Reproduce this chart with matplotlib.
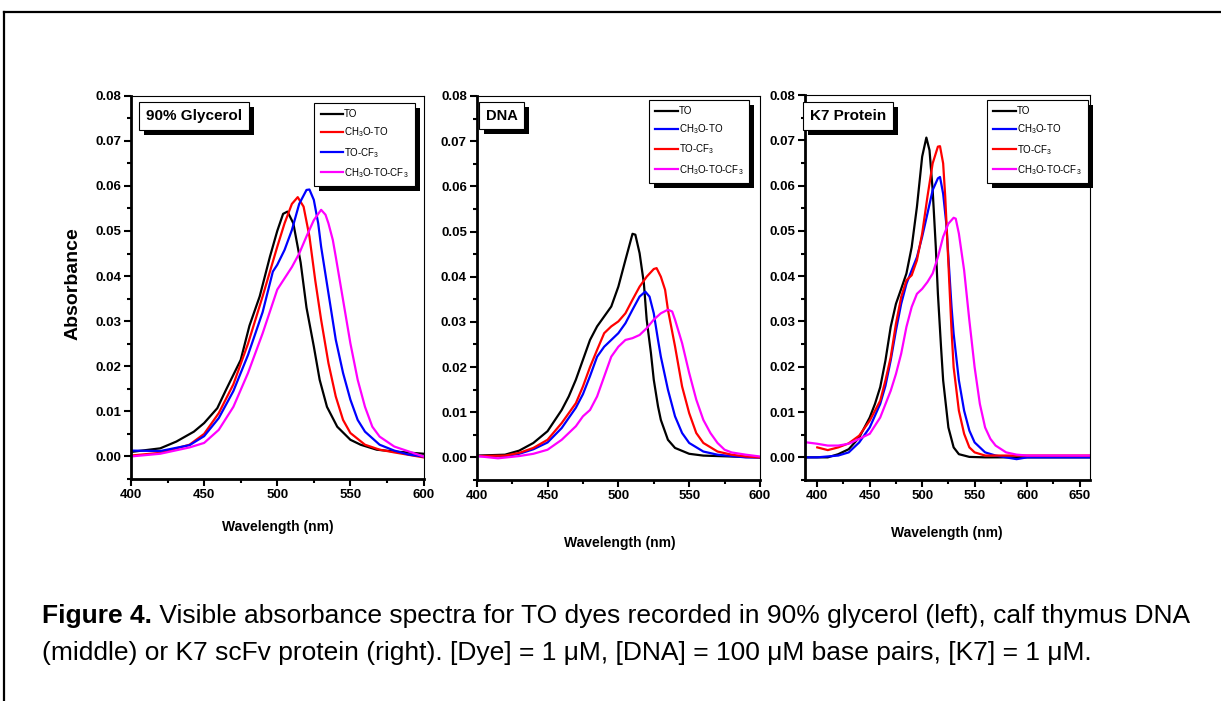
import matplotlib
matplotlib.use('Agg')
import matplotlib.pyplot as plt
from matplotlib.patches import Rectangle
from matplotlib.lines import Line2D
from matplotlib.transforms import IdentityTransform
from matplotlib.ticker import MultipleLocator, FormatStrFormatter

plt.rcParams['font.family'] = ['Liberation Sans', 'DejaVu Sans']
plt.rcParams['mathtext.fontset'] = 'custom'
plt.rcParams['mathtext.rm'] = 'Liberation Sans'
plt.rcParams['mathtext.default'] = 'regular'

# ---- data: wavelength (nm), absorbance ----
# 90% glycerol
gly_to_x = [400, 420, 431, 443, 450, 459, 465, 475, 481, 488, 495, 500, 504, 507, 511, 516, 520, 525, 529, 534, 541, 550, 557, 568, 580, 600]
gly_to_y = [0.0010, 0.0018, 0.0033, 0.0055, 0.0074, 0.0107, 0.0148, 0.0214, 0.0290, 0.0355, 0.0443, 0.0500, 0.0538, 0.0543, 0.0517, 0.0430, 0.0330, 0.0244, 0.0170, 0.0110, 0.0066, 0.0037, 0.0026, 0.0015, 0.0011, 0.0006]
gly_meo_x = [400, 420, 440, 450, 460, 470, 480, 490, 500, 505, 510, 514, 518, 522, 526, 530, 535, 540, 545, 550, 560, 570, 580, 600]
gly_meo_y = [0.0002, 0.0008, 0.0026, 0.0050, 0.0096, 0.0160, 0.0250, 0.0355, 0.0465, 0.0517, 0.0560, 0.0575, 0.0554, 0.0488, 0.0390, 0.0303, 0.0207, 0.0133, 0.0081, 0.0052, 0.0026, 0.0015, 0.0009, -0.0002]
gly_cf3_x = [400, 420, 440, 450, 460, 470, 480, 490, 497, 500, 505, 510, 515, 520, 522, 525, 528, 530, 535, 540, 545, 550, 555, 560, 570, 580, 590, 600]
gly_cf3_y = [0.0013, 0.0012, 0.0025, 0.0045, 0.0085, 0.0145, 0.0225, 0.0320, 0.0410, 0.0425, 0.0458, 0.0502, 0.0560, 0.0591, 0.0592, 0.0569, 0.0517, 0.0465, 0.0362, 0.0259, 0.0185, 0.0126, 0.0081, 0.0055, 0.0026, 0.0013, 0.0004, 0.0000]
gly_both_x = [400, 420, 440, 450, 460, 470, 480, 490, 500, 510, 515, 520, 525, 530, 533, 535, 538, 540, 545, 550, 555, 560, 565, 570, 580, 590, 600]
gly_both_y = [0.0000, 0.0006, 0.0020, 0.0030, 0.0059, 0.0110, 0.0185, 0.0273, 0.0370, 0.0420, 0.0450, 0.0488, 0.0524, 0.0547, 0.0536, 0.0517, 0.0480, 0.0443, 0.0347, 0.0251, 0.0170, 0.0110, 0.0066, 0.0044, 0.0022, 0.0011, 0.0000]

# calf thymus DNA
dna_to_x = [400, 420, 430, 440, 450, 460, 465, 470, 475, 480, 485, 490, 495, 500, 505, 510, 512, 515, 518, 520, 523, 525, 528, 530, 535, 540, 550, 560, 600]
dna_to_y = [0.0004, 0.0006, 0.0015, 0.0032, 0.0058, 0.0105, 0.0135, 0.0172, 0.0216, 0.0260, 0.0290, 0.0312, 0.0334, 0.0378, 0.0437, 0.0495, 0.0493, 0.0452, 0.0386, 0.0305, 0.0231, 0.0172, 0.0113, 0.0083, 0.0039, 0.0021, 0.0008, 0.0004, 0.0000]
dna_meo_x = [400, 420, 430, 440, 450, 460, 470, 475, 480, 485, 490, 495, 500, 505, 510, 515, 519, 522, 525, 528, 530, 535, 540, 545, 550, 560, 570, 590, 600]
dna_meo_y = [0.0003, 0.0003, 0.0008, 0.0018, 0.0033, 0.0065, 0.0110, 0.0140, 0.0180, 0.0223, 0.0245, 0.0260, 0.0275, 0.0297, 0.0327, 0.0356, 0.0367, 0.0356, 0.0319, 0.0260, 0.0223, 0.0150, 0.0091, 0.0054, 0.0032, 0.0013, 0.0006, 0.0000, 0.0000]
dna_cf3_x = [400, 420, 430, 440, 450, 460, 465, 470, 475, 480, 485, 490, 495, 500, 505, 510, 515, 520, 525, 527, 530, 533, 535, 540, 545, 550, 555, 560, 570, 580, 590, 600]
dna_cf3_y = [0.0003, 0.0004, 0.0010, 0.0021, 0.0039, 0.0076, 0.0098, 0.0120, 0.0157, 0.0200, 0.0238, 0.0275, 0.0290, 0.0301, 0.0319, 0.0349, 0.0378, 0.0400, 0.0417, 0.0419, 0.0400, 0.0371, 0.0327, 0.0246, 0.0157, 0.0098, 0.0054, 0.0032, 0.0013, 0.0006, 0.0002, 0.0000]
dna_both_x = [400, 415, 430, 440, 450, 460, 470, 475, 480, 485, 490, 495, 500, 505, 510, 515, 520, 525, 530, 535, 538, 540, 545, 550, 555, 560, 565, 570, 575, 580, 590, 600]
dna_both_y = [0.0003, -0.0002, 0.0003, 0.0008, 0.0017, 0.0039, 0.0069, 0.0091, 0.0105, 0.0135, 0.0179, 0.0223, 0.0245, 0.0260, 0.0264, 0.0271, 0.0286, 0.0305, 0.0319, 0.0327, 0.0323, 0.0305, 0.0253, 0.0187, 0.0128, 0.0083, 0.0054, 0.0032, 0.0017, 0.0011, 0.0006, 0.0002]

# K7 scFv protein
k7_to_x = [390, 410, 420, 430, 440, 450, 455, 460, 465, 470, 475, 480, 485, 490, 495, 500, 504, 507, 510, 513, 515, 518, 520, 525, 530, 535, 545, 560, 660]
k7_to_y = [0.0000, 0.0000, 0.0007, 0.0018, 0.0044, 0.0088, 0.0118, 0.0155, 0.0214, 0.0288, 0.0339, 0.0372, 0.0406, 0.0464, 0.0553, 0.0664, 0.0706, 0.0678, 0.0590, 0.0464, 0.0361, 0.0243, 0.0170, 0.0066, 0.0022, 0.0007, 0.0001, 0.0000, 0.0000]
k7_meo_x = [390, 400, 420, 430, 440, 450, 460, 465, 470, 475, 480, 485, 490, 495, 500, 505, 510, 515, 517, 520, 523, 525, 528, 530, 535, 540, 545, 550, 560, 570, 590, 600, 660]
k7_meo_y = [0.0000, 0.0000, 0.0004, 0.0011, 0.0033, 0.0066, 0.0118, 0.0158, 0.0214, 0.0280, 0.0339, 0.0383, 0.0413, 0.0442, 0.0487, 0.0538, 0.0590, 0.0616, 0.0619, 0.0582, 0.0516, 0.0442, 0.0332, 0.0273, 0.0170, 0.0103, 0.0059, 0.0033, 0.0011, 0.0004, -0.0004, 0.0000, 0.0000]
k7_cf3_x = [400, 410, 420, 430, 440, 450, 460, 465, 470, 475, 480, 485, 490, 495, 500, 505, 510, 515, 517, 520, 522, 525, 528, 530, 535, 540, 545, 550, 560, 580, 660]
k7_cf3_y = [0.0022, 0.0016, 0.0022, 0.0031, 0.0048, 0.0081, 0.0125, 0.0170, 0.0221, 0.0295, 0.0354, 0.0391, 0.0402, 0.0435, 0.0494, 0.0575, 0.0649, 0.0686, 0.0687, 0.0649, 0.0575, 0.0428, 0.0280, 0.0199, 0.0103, 0.0052, 0.0022, 0.0011, 0.0004, 0.0004, 0.0004]
k7_both_x = [390, 400, 410, 420, 430, 440, 450, 460, 470, 475, 480, 485, 490, 495, 500, 505, 510, 515, 520, 525, 530, 532, 535, 540, 545, 550, 555, 560, 565, 570, 580, 590, 600, 660]
k7_both_y = [0.0033, 0.0030, 0.0026, 0.0026, 0.0030, 0.0041, 0.0052, 0.0088, 0.0147, 0.0184, 0.0229, 0.0288, 0.0332, 0.0361, 0.0372, 0.0387, 0.0406, 0.0442, 0.0487, 0.0516, 0.0529, 0.0527, 0.0494, 0.0413, 0.0302, 0.0199, 0.0118, 0.0066, 0.0041, 0.0026, 0.0011, 0.0006, 0.0004, 0.0004]

lab_to = 'TO'
lab_meo = 'CH$_3$O-TO'
lab_cf3 = 'TO-CF$_3$'
lab_both = 'CH$_3$O-TO-CF$_3$'

caption_bold = 'Figure 4.'
caption_1 = ' Visible absorbance spectra for TO dyes recorded in 90% glycerol (left), calf thymus DNA'
caption_2 = '(middle) or K7 scFv protein (right). [Dye] = 1 \u03bcM, [DNA] = 100 \u03bcM base pairs, [K7] = 1 \u03bcM.'

W, H = 1221, 701
fig = plt.figure(figsize=(W / 100, H / 100), dpi=100)


def px_axes(x0, y0, x1, y1):
    return fig.add_axes([x0 / W, 1 - y1 / H, (x1 - x0) / W, (y1 - y0) / H])


def style_axes(ax, xlim, xticks):
    ax.set_xlim(*xlim)
    ax.set_ylim(-0.005, 0.08)
    ax.set_xticks(xticks)
    ax.xaxis.set_minor_locator(MultipleLocator(25))
    ax.yaxis.set_major_locator(MultipleLocator(0.01))
    ax.yaxis.set_minor_locator(MultipleLocator(0.005))
    ax.yaxis.set_major_formatter(FormatStrFormatter('%.2f'))
    for s in ['left', 'bottom']:
        ax.spines[s].set_linewidth(2.0)
    for s in ['top', 'right']:
        ax.spines[s].set_linewidth(0.8)
    ax.tick_params(which='major', direction='out', length=5, width=1.5, pad=2,
                   labelsize=9.5)
    ax.tick_params(which='minor', direction='out', length=3, width=1.5)
    for lb in ax.get_xticklabels() + ax.get_yticklabels():
        lb.set_fontweight('bold')


panels = [
    dict(box=(131, 95.7, 423.5, 479), xlim=(400, 600), xticks=range(400, 601, 50),
         curves=[(gly_to_x, gly_to_y, 'black', lab_to),
                 (gly_meo_x, gly_meo_y, '#ff0000', lab_meo),
                 (gly_cf3_x, gly_cf3_y, '#0000ff', lab_cf3),
                 (gly_both_x, gly_both_y, '#ff00ff', lab_both)],
         title='90% Glycerol', title_xy=(0.216, 0.947), title_size=11,
         leg_xy=(0.627, 0.981), xlab_xy=(0.503, -0.125)),
    dict(box=(476.7, 96, 760, 480), xlim=(400, 600), xticks=range(400, 601, 50),
         curves=[(dna_to_x, dna_to_y, 'black', lab_to),
                 (dna_meo_x, dna_meo_y, '#0000ff', lab_meo),
                 (dna_cf3_x, dna_cf3_y, '#ff0000', lab_cf3),
                 (dna_both_x, dna_both_y, '#ff00ff', lab_both)],
         title='DNA', title_xy=(0.089, 0.949), title_size=10.5,
         leg_xy=(0.608, 0.990), xlab_xy=(0.506, -0.164)),
    dict(box=(805, 95, 1090, 480), xlim=(388.3, 660), xticks=range(400, 651, 50),
         curves=[(k7_to_x, k7_to_y, 'black', lab_to),
                 (k7_meo_x, k7_meo_y, '#0000ff', lab_meo),
                 (k7_cf3_x, k7_cf3_y, '#ff0000', lab_cf3),
                 (k7_both_x, k7_both_y, '#ff00ff', lab_both)],
         title='K7 Protein', title_xy=(0.151, 0.945), title_size=11,
         leg_xy=(0.639, 0.987), xlab_xy=(0.498, -0.138)),
]

axes, legends, titles = [], [], []
for i, p in enumerate(panels):
    ax = px_axes(*p['box'])
    for xs, ys, c, lab in p['curves']:
        ax.plot(xs, ys, color=c, lw=1.6, label=lab)
    style_axes(ax, p['xlim'], p['xticks'])
    ax.set_xlabel('Wavelength (nm)', fontsize=10, fontweight='bold')
    ax.xaxis.set_label_coords(*p['xlab_xy'])
    ax.xaxis.label.set_va('center')
    if i == 0:
        ax.set_ylabel('Absorbance', fontsize=14, fontweight='bold')
        ax.yaxis.set_label_coords(-0.199, 0.511)
        ax.yaxis.label.set_va('center')
    leg = ax.legend(loc='upper left', bbox_to_anchor=p['leg_xy'], fontsize=7,
                    frameon=True, fancybox=False, framealpha=1, borderaxespad=0,
                    handlelength=2.3, handletextpad=0.1, labelspacing=0.65,
                    borderpad=0.65)
    leg.get_frame().set_edgecolor('black')
    leg.get_frame().set_linewidth(0.8)
    leg.set_zorder(6)
    t = ax.text(*p['title_xy'], p['title'], transform=ax.transAxes, ha='center',
                va='center', fontsize=p['title_size'], fontweight='bold', zorder=7,
                bbox=dict(boxstyle='square,pad=0.45', fc='white', ec='black', lw=0.8))
    axes.append(ax)
    legends.append(leg)
    titles.append(t)

# caption
t1 = fig.text(42 / W, 1 - 623 / H, caption_bold, fontsize=19, fontweight='bold',
              va='baseline')
t1b = fig.text(0, 0, caption_1, fontsize=19, va='baseline')
fig.text(42 / W, 1 - 660 / H, caption_2, fontsize=19, va='baseline')

# outer frame lines
fig.add_artist(Line2D([4 / W, 1], [1 - 12 / H, 1 - 12 / H], color='black', lw=1.6))
fig.add_artist(Line2D([4 / W, 4 / W], [0, 1 - 12 / H], color='black', lw=1.6))

fig.canvas.draw()
r = fig.canvas.get_renderer()
bb = t1.get_window_extent(r)
t1b.set_position((bb.x1 / W, 1 - 623 / H))

# drop shadows behind legend boxes and panel titles
for ax, leg, t in zip(axes, legends, titles):
    for e, z in [(leg.get_frame().get_window_extent(r), 5.5),
                 (t.get_bbox_patch().get_window_extent(r), 6.5)]:
        ax.add_patch(Rectangle((e.x0 + 5, e.y0 - 5), e.width, e.height,
                               transform=IdentityTransform(), fc='black',
                               ec='none', zorder=z, clip_on=False))

fig.savefig('out.png', dpi=100)
